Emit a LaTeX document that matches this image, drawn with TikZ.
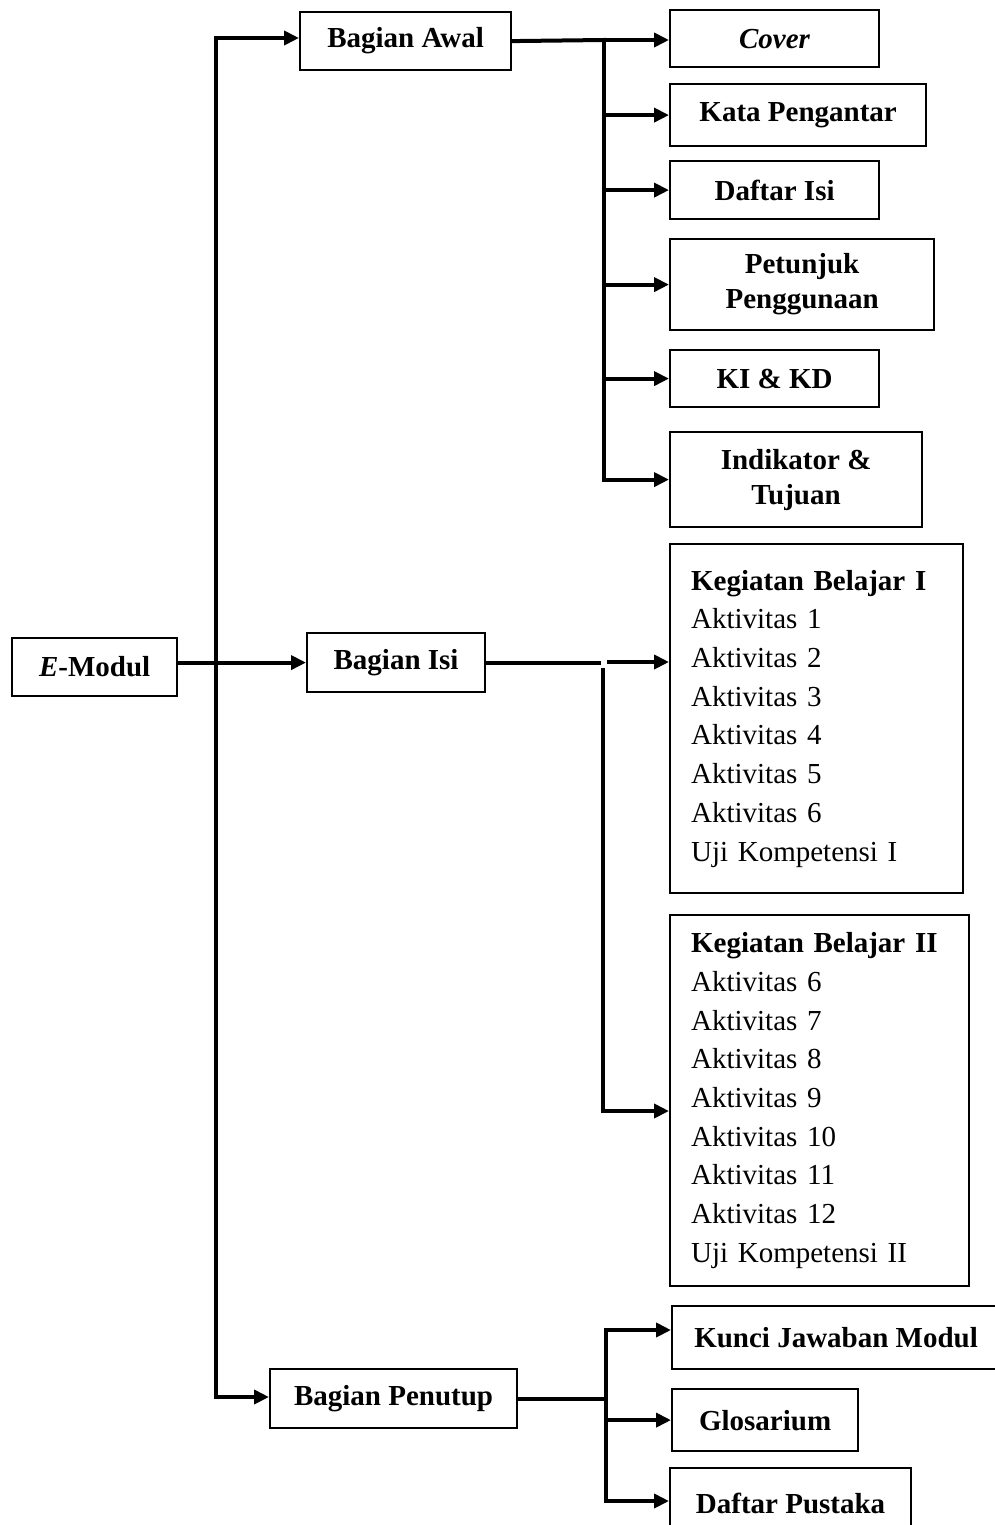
\documentclass[tikz,border=0pt]{standalone}
\usepackage{fontspec}
\setmainfont{Liberation Serif}
\usetikzlibrary{arrows.meta}
\begin{document}
\begin{tikzpicture}[x=1pt,y=-1pt,
  box/.style={draw, line width=2.2pt, anchor=north west, inner sep=0pt,
    align=center, font=\fontsize{29}{35}\selectfont\bfseries},
  listbox/.style={draw, line width=2.2pt, anchor=north west, inner xsep=21pt,
    inner ysep=0pt, align=left, font=\fontsize{29}{38.7}\selectfont},
  link/.style={line width=4pt, line cap=rect},
  arr/.style={line width=4pt, -{Triangle[length=15pt,width=14pt]}},
]
\useasboundingbox (0,0) rectangle (995,1525);

% main levels
\node[box, minimum width=165pt, minimum height=58pt] (emodul) at (11,637) {\textit{E}-Modul};
\node[box, minimum width=211pt, minimum height=58pt] (awal) at (299,11) {Bagian Awal};
\node[box, minimum width=178pt, minimum height=59pt] (isi) at (306,632) {Bagian Isi};
\node[box, minimum width=247pt, minimum height=59pt] (penutup) at (269,1368) {Bagian Penutup};

% opening part
\node[box, minimum width=209pt, minimum height=57pt] (cover) at (669,9) {\textit{Cover}};
\node[box, minimum width=256pt, minimum height=62pt] (kata) at (669,83) {Kata Pengantar};
\node[box, minimum width=209pt, minimum height=58pt] (daftar) at (669,160) {Daftar Isi};
\node[box, minimum width=264pt, minimum height=91pt] (petunjuk) at (669,238) {Petunjuk\\Penggunaan};
\node[box, minimum width=209pt, minimum height=57pt] (kikd) at (669,349) {KI \& KD};
\node[box, minimum width=252pt, minimum height=95pt] (indikator) at (669,431) {Indikator \&\\Tujuan};

% content part
\node[listbox, text width=251pt, minimum height=349pt] (keg1) at (669,543)
  {\textbf{Kegiatan Belajar I}\\Aktivitas 1\\Aktivitas 2\\Aktivitas 3\\Aktivitas 4\\Aktivitas 5\\Aktivitas 6\\Uji Kompetensi I};
\node[listbox, text width=257pt, minimum height=371pt] (keg2) at (669,914)
  {\textbf{Kegiatan Belajar II}\\Aktivitas 6\\Aktivitas 7\\Aktivitas 8\\Aktivitas 9\\Aktivitas 10\\Aktivitas 11\\Aktivitas 12\\Uji Kompetensi II};

% closing part
\node[box, minimum width=328pt, minimum height=63pt] (kunci) at (671,1305) {Kunci Jawaban Modul};
\node[box, minimum width=186pt, minimum height=62pt] (glos) at (671,1388) {Glosarium};
\node[box, minimum width=241pt, minimum height=70pt] (pustaka) at (669,1467) {Daftar Pustaka};

% main trunk
\coordinate (t1) at (216,38);
\coordinate (t2) at (216,1397);
\draw[link] (t1) -- (t2);
\draw[arr] (t1) -- (t1 -| awal.west);
\draw[arr] (t2) -- (t2 -| penutup.west);
\draw[arr] (emodul.east |- isi.west) -- (isi.west);

% opening branches
\coordinate (a0) at (604,40);
\draw[link] (awal.east) -- (a0);
\draw[link] (a0) -- (a0 |- indikator.west);
\draw[arr] (a0) -- (a0 -| cover.west);
\foreach \n in {kata,daftar,petunjuk,kikd,indikator}
  \draw[arr] (a0 |- \n.west) -- (\n.west);

% content branches
\coordinate (i1) at (599,662);
\coordinate (i2) at (607,662);
\coordinate (i3) at (603,670);
\coordinate (i4) at (603,1111);
\draw[link] (isi.east) -- (isi.east -| i1);
\draw[arr] (i2) -- (i2 -| keg1.west);
\draw[link] (i3) -- (i4);
\draw[arr] (i4) -- (i4 -| keg2.west);

% closing branches
\coordinate (p0) at (606,1397);
\coordinate (p1) at (606,1330);
\coordinate (p2) at (606,1501);
\draw[link] (penutup.east) -- (penutup.east -| p0);
\draw[link] (p1) -- (p2);
\draw[arr] (p1) -- (p1 -| kunci.west);
\draw[arr] (p1 |- glos.west) -- (glos.west);
\draw[arr] (p2) -- (p2 -| pustaka.west);
\end{tikzpicture}
\end{document}
